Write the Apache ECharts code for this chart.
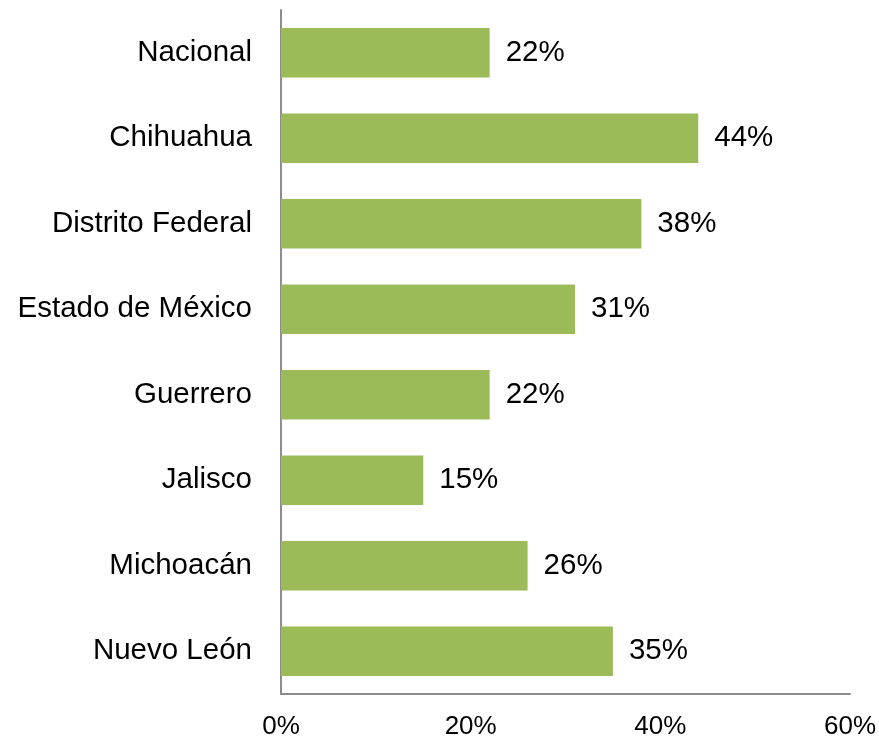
<!DOCTYPE html>
<html><head><meta charset="utf-8">
<script src="https://cdn.jsdelivr.net/npm/echarts@6/dist/echarts.min.js"></script>
<style>html,body{margin:0;padding:0;background:#fff}#c{width:879px;height:738px}</style>
</head><body><div id="c"></div>
<script>
const categories = ["Nacional","Chihuahua","Distrito Federal","Estado de México","Guerrero","Jalisco","Michoacán","Nuevo León"];
const values = [22,44,38,31,22,15,26,35];
const xTicks = [0,20,40,60];

const chart = echarts.init(document.getElementById('c'), null, {renderer:'canvas'});
chart.setOption({
  animation:false,
  grid:{left:281,right:29,top:10,bottom:44,containLabel:false,outerBoundsMode:'none'},
  xAxis:{type:'value',min:xTicks[0],max:xTicks[xTicks.length-1],interval:xTicks[1]-xTicks[0],
    axisLine:{show:true,lineStyle:{color:'#8c8c8c',width:2}},
    axisTick:{show:false},splitLine:{show:false},
    axisLabel:{formatter:v=>v+'%',fontFamily:'Liberation Sans',fontSize:26,color:'#000',margin:20}},
  yAxis:{type:'category',data:categories,inverse:true,
    axisLine:{show:true,lineStyle:{color:'#8c8c8c',width:2}},
    axisTick:{show:false},
    axisLabel:{fontFamily:'Liberation Sans',fontSize:29.5,color:'#000',margin:29}},
  series:[{type:'bar',data:values,barCategoryGap:'42%',
    itemStyle:{color:'#9BBB59'},
    label:{show:true,position:'right',distance:16,formatter:p=>p.value+'%',fontFamily:'Liberation Sans',fontSize:29.5,color:'#000'}}]
});
</script></body></html>
